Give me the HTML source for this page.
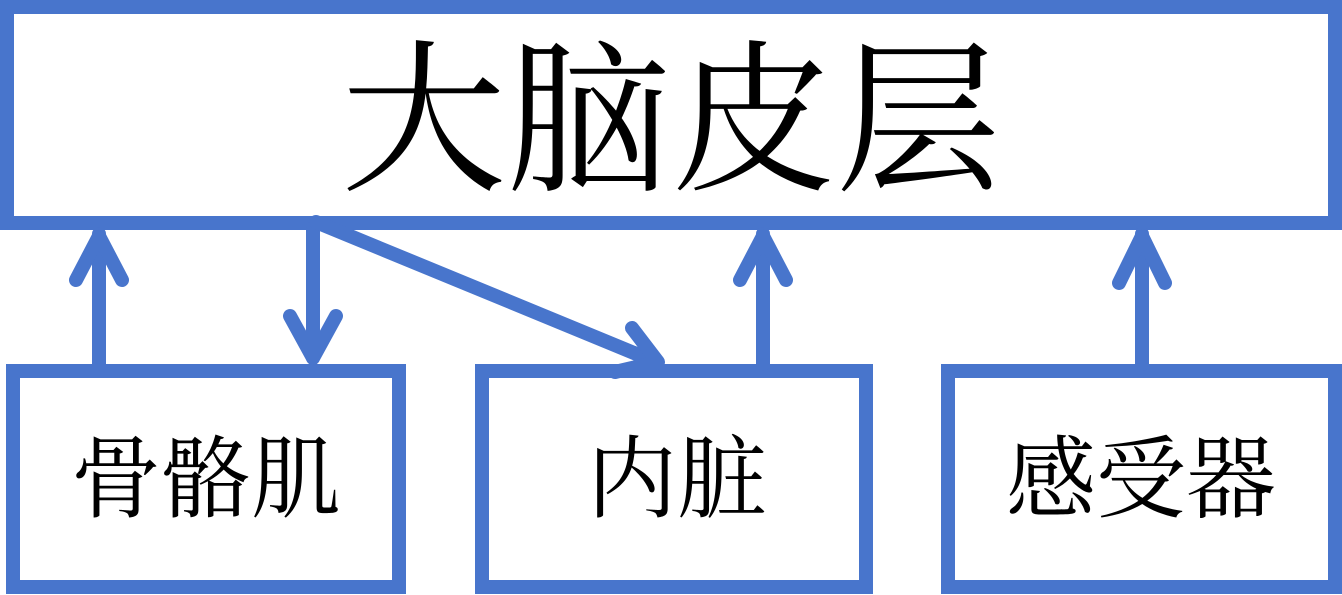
<!DOCTYPE html>
<html><head><meta charset="utf-8"><style>
html,body{margin:0;padding:0;background:#fff;}
svg{display:block;}
text{font-family:"Liberation Serif","Noto Serif CJK SC",serif;fill:#000;}
</style></head><body>
<svg width="1342" height="595" viewBox="0 0 1342 595" xmlns="http://www.w3.org/2000/svg">
<g fill="none" stroke="#4875cc" stroke-width="14">
<rect x="7" y="7" width="1328" height="216"/>
<rect x="13" y="371" width="386" height="216"/>
<rect x="482" y="371" width="384" height="216"/>
<rect x="948" y="371" width="387" height="216"/>
</g>
<g fill="none" stroke="#4875cc" stroke-width="14" stroke-linecap="round" stroke-linejoin="round">
<line x1="99" y1="364" x2="99" y2="234"/>
<polyline points="76,280 99,236 122,280" stroke-linecap="round"/>
<line x1="313" y1="228" x2="313" y2="358"/>
<polyline points="290,316 313,358 336,316"/>
<line x1="316" y1="222" x2="656" y2="362"/>
<polyline points="632,328 658,362 615,372"/>
<line x1="763" y1="364" x2="763" y2="234"/>
<polyline points="740,280 763,236 786,280"/>
<line x1="1142" y1="364" x2="1142" y2="234"/>
<polyline points="1119,283 1142,236 1165,283"/>
</g>
<text x="671" y="178" font-size="165" text-anchor="middle">大脑皮层</text>
<text x="206" y="510" font-size="90" text-anchor="middle">骨骼肌</text>
<text x="677" y="510" font-size="90" text-anchor="middle">内脏</text>
<text x="1141" y="510" font-size="90" text-anchor="middle">感受器</text>
</svg>
</body></html>
